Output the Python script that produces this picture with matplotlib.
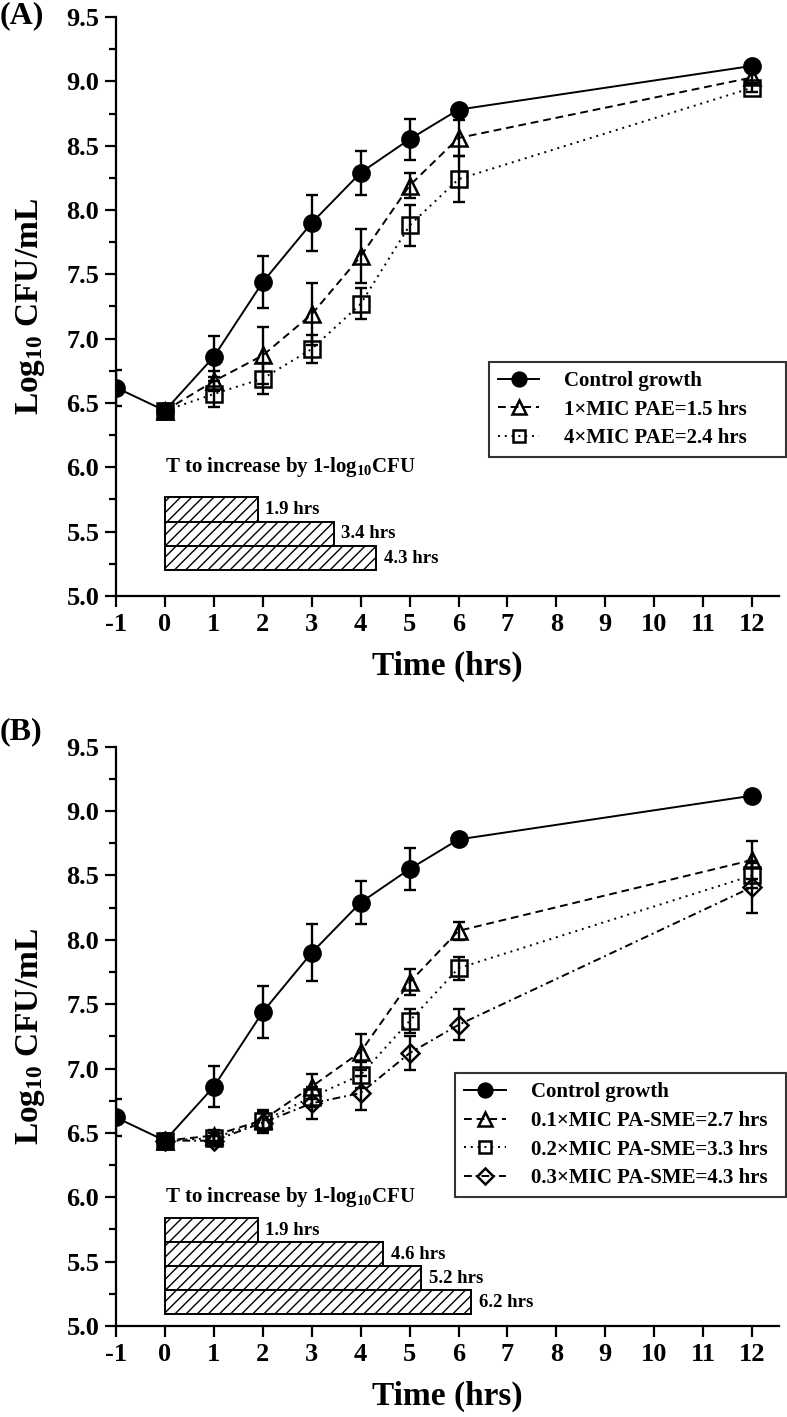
import matplotlib
matplotlib.use("Agg")
import matplotlib.pyplot as plt
from matplotlib.ticker import MultipleLocator

plt.rcParams["font.family"] = ["Liberation Serif", "DejaVu Serif"]
plt.rcParams["font.weight"] = "bold"
plt.rcParams["mathtext.fontset"] = "custom"
plt.rcParams["mathtext.rm"] = "Liberation Serif:bold"
plt.rcParams["mathtext.it"] = "Liberation Serif:bold:italic"
plt.rcParams["mathtext.bf"] = "Liberation Serif:bold"
plt.rcParams["hatch.linewidth"] = 1.0

# --- data (log10 CFU/mL) ---
t_ctrl = [-1, 0, 1, 2, 3, 4, 5, 6, 12]
ctrl = [6.62, 6.44, 6.86, 7.44, 7.90, 8.29, 8.55, 8.78, 9.12]
ctrl_err = [0.14, 0.05, 0.16, 0.20, 0.22, 0.17, 0.16, 0.03, 0.03]

t_trt = [0, 1, 2, 3, 4, 5, 6, 12]

# panel A: PAE
pae_1x = [6.44, 6.67, 6.87, 7.19, 7.64, 8.19, 8.56, 9.03]
pae_1x_err = [0.05, 0.08, 0.22, 0.24, 0.21, 0.10, 0.14, 0.04]
pae_4x = [6.44, 6.57, 6.69, 6.92, 7.27, 7.88, 8.24, 8.95]
pae_4x_err = [0.05, 0.10, 0.12, 0.11, 0.12, 0.16, 0.18, 0.03]

# panel B: PA-SME
sme_01 = [6.44, 6.48, 6.60, 6.86, 7.13, 7.67, 8.07, 8.62]
sme_01_err = [0.05, 0.04, 0.08, 0.10, 0.14, 0.10, 0.07, 0.15]
sme_02 = [6.44, 6.46, 6.59, 6.78, 6.95, 7.37, 7.78, 8.50]
sme_02_err = [0.05, 0.04, 0.08, 0.08, 0.10, 0.09, 0.09, 0.10]
sme_03 = [6.44, 6.44, 6.58, 6.73, 6.81, 7.12, 7.34, 8.41]
sme_03_err = [0.05, 0.04, 0.08, 0.12, 0.13, 0.13, 0.12, 0.20]

# time to increase by 1 log10 CFU (hrs)
bar_a = [1.9, 3.45, 4.32]
bar_a_lbl = ["1.9 hrs", "3.4 hrs", "4.3 hrs"]
bar_b = [1.9, 4.46, 5.24, 6.26]
bar_b_lbl = ["1.9 hrs", "4.6 hrs", "5.2 hrs", "6.2 hrs"]

xticks = list(range(-1, 13))

fig = plt.figure(figsize=(7.87, 14.17), dpi=100)
ax_a = fig.add_axes([0.1474, 0.5794, 0.8425, 0.4086])
ax_b = fig.add_axes([0.1474, 0.0642, 0.8425, 0.4088])

ctrl_style = dict(color="black", ls="-", lw=1.4, marker="o", ms=12,
                  mfc="black", mec="black", mew=1.5)
def open_style(ls, marker, ms):
    return dict(color="black", ls=ls, lw=1.4, marker=marker, ms=ms,
                mfc="none", mec="black", mew=1.8)

def series(ax, t, y, e, label, style, z=3):
    ax.errorbar(t, y, yerr=e, fmt="none", ecolor="black", elinewidth=1.7,
                capsize=4, capthick=1.7, zorder=2)
    ax.plot(t, y, label=label, zorder=z, **style)

def bars(ax, vals, lbls, y_top, h):
    ys = [y_top - h * (i + 0.5) for i in range(len(vals))]
    ax.barh(ys, vals, height=h, left=0, color="white", edgecolor="black",
            hatch="///", lw=1.4, zorder=1)
    for v, y, s in zip(vals, ys, lbls):
        ax.text(v + 0.15, y, s, va="center", ha="left", fontsize=13.5,
                fontweight="bold")

def style_axes(ax):
    ax.set_xlim(-1, 12.55)
    ax.set_ylim(5.0, 9.5)
    ax.set_xticks(xticks)
    ax.set_xticklabels([str(v) for v in xticks])
    ax.yaxis.set_major_locator(MultipleLocator(0.5))
    ax.yaxis.set_minor_locator(MultipleLocator(0.25))
    ax.yaxis.set_major_formatter(matplotlib.ticker.FormatStrFormatter("%.1f"))
    for s in ["top", "right"]:
        ax.spines[s].set_visible(False)
    for s in ["left", "bottom"]:
        ax.spines[s].set_linewidth(1.6)
    ax.tick_params(which="major", length=8, width=1.6, labelsize=19, pad=4)
    ax.tick_params(which="minor", length=5, width=1.6)
    ax.set_xlabel("Time (hrs)", fontsize=24, fontweight="bold")
    ax.set_ylabel("Log$_{10}$ CFU/mL", fontsize=24, fontweight="bold")
    ax.xaxis.set_label_coords(0.5, -0.094)
    ax.yaxis.set_label_coords(-0.104, 0.5)
    ax.text(0.0, 6.0, "T to increase by 1-log$_{10}$CFU", va="center",
            ha="left", fontsize=15, fontweight="bold")

def legend(ax, x0, top, w, h):
    leg = ax.legend(loc="upper left", bbox_to_anchor=(x0, top - h, w, h),
                    mode="expand", borderaxespad=0, fontsize=15, frameon=True,
                    fancybox=False, edgecolor="black", handlelength=2.0,
                    handletextpad=1.2, labelspacing=0.42, borderpad=0.42,
                    markerscale=0.85)
    leg.get_frame().set_linewidth(1.5)

# panel A
style_axes(ax_a)
series(ax_a, t_ctrl, ctrl, ctrl_err, "Control growth", ctrl_style, z=4)
series(ax_a, t_trt, pae_1x, pae_1x_err, "1×MIC PAE=1.5 hrs",
       open_style((0, (4, 2.5)), "^", 12))
series(ax_a, t_trt, pae_4x, pae_4x_err, "4×MIC PAE=2.4 hrs",
       open_style((0, (1, 2.5)), "s", 11))
bars(ax_a, bar_a, bar_a_lbl, 5.767, 0.189)
legend(ax_a, 0.5626, 0.404, 0.448, 0.16)

# panel B
style_axes(ax_b)
series(ax_b, t_ctrl, ctrl, ctrl_err, "Control growth", ctrl_style, z=4)
series(ax_b, t_trt, sme_01, sme_01_err, "0.1×MIC PA-SME=2.7 hrs",
       open_style((0, (4, 2.5)), "^", 12))
series(ax_b, t_trt, sme_02, sme_02_err, "0.2×MIC PA-SME=3.3 hrs",
       open_style((0, (1, 2.5)), "s", 11))
series(ax_b, t_trt, sme_03, sme_03_err, "0.3×MIC PA-SME=4.3 hrs",
       open_style((0, (4, 2, 1, 2)), "D", 9))
bars(ax_b, bar_b, bar_b_lbl, 5.837, 0.186)
legend(ax_b, 0.512, 0.436, 0.498, 0.22)

fig.text(0.0, 0.999, "(A)", va="top", ha="left", fontsize=23, fontweight="bold")
fig.text(0.0, 0.494, "(B)", va="top", ha="left", fontsize=23, fontweight="bold")

fig.savefig("out.png", dpi=100, facecolor="white")
